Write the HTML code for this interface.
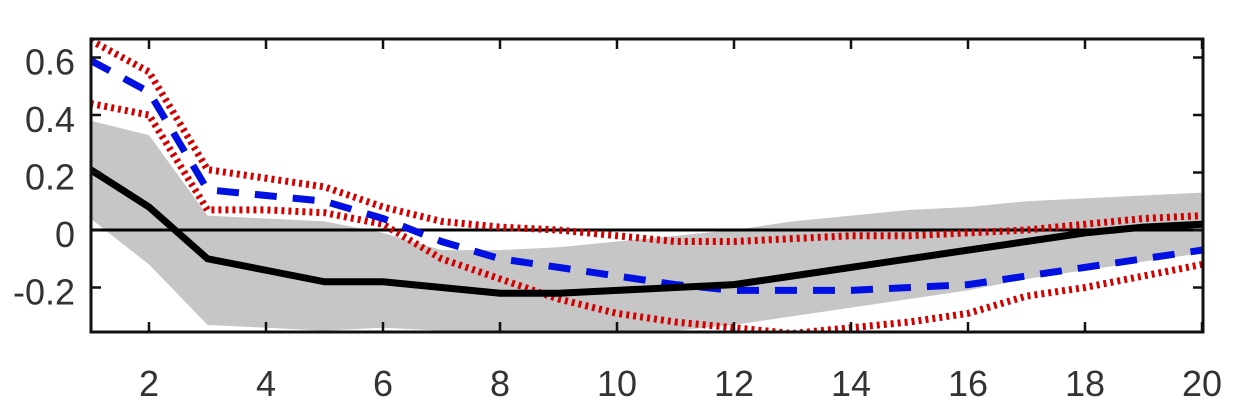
<!DOCTYPE html>
<html><head><meta charset="utf-8"><style>
body{margin:0;background:#fff;}
svg{display:block;font-family:"Liberation Sans",sans-serif;}
</style></head><body>
<svg id="chart" width="1248" height="415">
<defs><clipPath id="pc"><rect x="91" y="39" width="1112" height="293"/></clipPath></defs>
<g id="band" clip-path="url(#pc)"></g>
<g id="lines" clip-path="url(#pc)"></g>
<g id="axes"></g>
</svg>
<script>
const xs=[1,2,3,4,5,6,7,8,9,10,11,12,13,14,15,16,17,18,19,20];
const blackLine=[0.21,0.08,-0.1,-0.14,-0.18,-0.18,-0.2,-0.22,-0.22,-0.21,-0.2,-0.19,-0.16,-0.13,-0.1,-0.07,-0.04,-0.01,0.01,0.02];
const blueLine=[0.59,0.48,0.14,0.12,0.1,0.04,-0.04,-0.1,-0.13,-0.16,-0.19,-0.21,-0.21,-0.21,-0.2,-0.19,-0.16,-0.13,-0.1,-0.07];
const redUpper=[0.66,0.55,0.21,0.18,0.15,0.08,0.03,0.01,0.0,-0.02,-0.04,-0.04,-0.03,-0.02,-0.02,-0.01,0.0,0.02,0.04,0.05];
const redLower=[0.44,0.40,0.07,0.07,0.06,0.02,-0.1,-0.17,-0.24,-0.29,-0.32,-0.34,-0.36,-0.34,-0.32,-0.29,-0.23,-0.2,-0.16,-0.12];
const bandUpper=[0.38,0.33,0.05,0.04,0.03,-0.01,-0.07,-0.07,-0.06,-0.04,-0.02,0.0,0.03,0.05,0.07,0.08,0.1,0.11,0.12,0.13];
const bandLower=[0.04,-0.12,-0.33,-0.34,-0.35,-0.34,-0.35,-0.35,-0.35,-0.35,-0.35,-0.33,-0.3,-0.27,-0.24,-0.21,-0.17,-0.14,-0.11,-0.08];
const xTicks=[2,4,6,8,10,12,14,16,18,20];
const yTicks=[-0.2,0,0.2,0.4,0.6];
const yTickLabels=["-0.2","0","0.2","0.4","0.6"];

const NS="http://www.w3.org/2000/svg";
const X=v=>90.5+(v-1)*58.5;
const Y=v=>230-v*287.5;
function mk(tag,attrs,parent){const e=document.createElementNS(NS,tag);for(const k in attrs)e.setAttribute(k,attrs[k]);parent.appendChild(e);return e;}
const pts=a=>a.map((v,i)=>X(xs[i])+","+Y(v)).join(" ");

const band=document.getElementById('band');
const poly=mk('polygon',{points:pts(bandUpper)+" "+bandLower.map((v,i)=>X(xs[i])+","+Y(v)).reverse().join(" "),fill:"#c6c6c6"},band);



const lines=document.getElementById('lines');
const z=mk('line',{x1:91,x2:1203,y1:Y(0),y2:Y(0),stroke:"#000","stroke-width":3},lines);


const ru=mk('polyline',{points:pts(redUpper),fill:"none",stroke:"#d40000","stroke-width":7,"stroke-dasharray":"3 4"},lines);


const rl=mk('polyline',{points:pts(redLower),fill:"none",stroke:"#d40000","stroke-width":7,"stroke-dasharray":"3 4"},lines);


const bl=mk('polyline',{points:pts(blueLine),fill:"none",stroke:"#0010e0","stroke-width":7,"stroke-dasharray":"22 16"},lines);


const kl=mk('polyline',{points:pts(blackLine),fill:"none",stroke:"#000","stroke-width":7},lines);



const axes=document.getElementById('axes');
const fr=mk('rect',{x:91,y:39,width:1112,height:293,fill:"none",stroke:"#111","stroke-width":3},axes);


xTicks.forEach(t=>{
  mk('line',{x1:X(t),x2:X(t),y1:332,y2:322,stroke:"#111","stroke-width":2.5},axes);
  mk('line',{x1:X(t),x2:X(t),y1:39,y2:49,stroke:"#111","stroke-width":2.5},axes);
  const tx=mk('text',{x:X(t),y:396,"text-anchor":"middle","font-size":36,fill:"#333"},axes);
  tx.textContent=t;
  
  
});
yTicks.forEach((t,i)=>{
  mk('line',{x1:91,x2:101,y1:Y(t),y2:Y(t),stroke:"#111","stroke-width":2.5},axes);
  mk('line',{x1:1203,x2:1193,y1:Y(t),y2:Y(t),stroke:"#111","stroke-width":2.5},axes);
  const tx=mk('text',{x:75,y:Y(t)+17,"text-anchor":"end","font-size":36,fill:"#333"},axes);
  tx.textContent=yTickLabels[i];
  
  
});
</script>
</body></html>
